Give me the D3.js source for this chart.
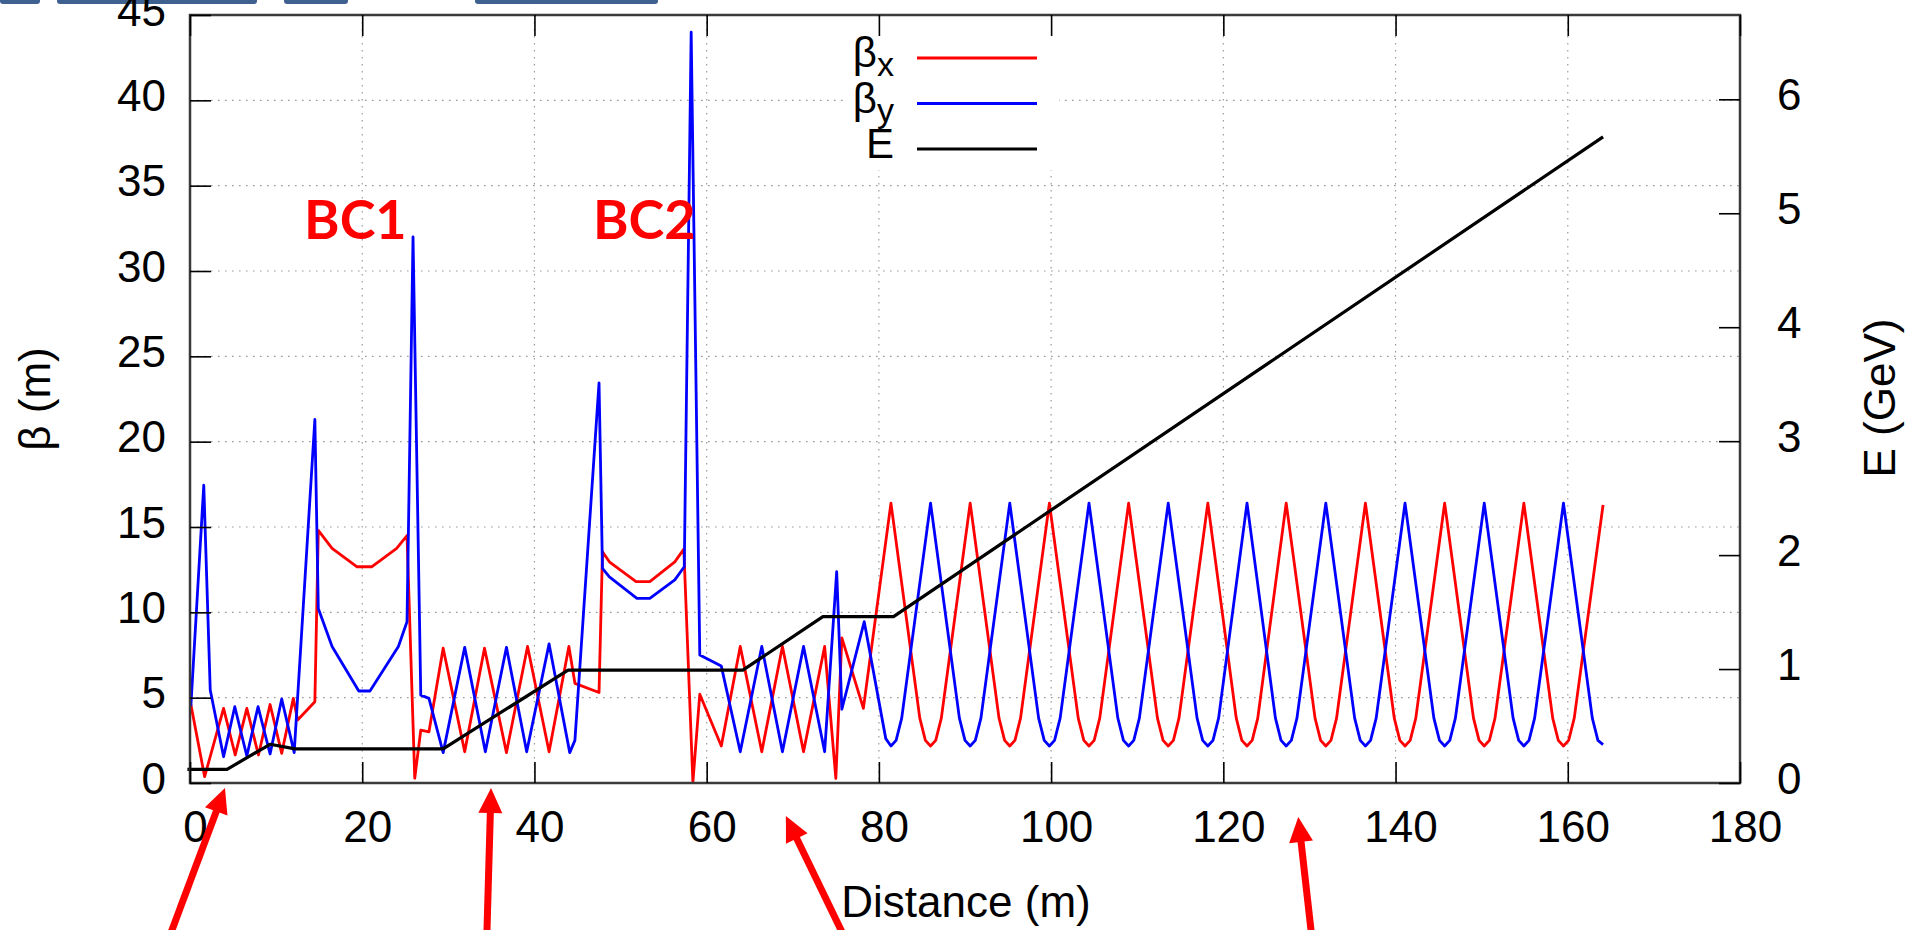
<!DOCTYPE html>
<html>
<head>
<meta charset="utf-8">
<script src="https://cdn.jsdelivr.net/npm/d3@7"></script>
<style>
    body { margin: 0; background: #fff; }
    svg { display: block; font-family: "Liberation Sans", Arial, sans-serif; }
</style>
</head>
<body>
<div id="chart"></div>
<script>

// beta functions, [distance (m), beta (m)]
var betaX = [
    [0.1, 4.6], [1.7, 0.37], [3.9, 4.37], [5.25, 1.64], [6.6, 4.37], [7.95, 1.64],
    [9.3, 4.6], [10.65, 1.74], [12.0, 4.96], [12.5, 3.69], [14.5, 4.76], [14.9, 14.8],
    [16.5, 13.75], [19.4, 12.67], [21.1, 12.67], [24.0, 13.75], [25.2, 14.5], [26.1, 0.28],
    [26.8, 3.1], [27.75, 3.0], [29.4, 7.9], [31.9, 1.83], [34.2, 7.9], [36.75, 1.78],
    [39.2, 8.0], [41.7, 1.83], [44.0, 8.0], [44.7, 5.84], [47.5, 5.3], [47.9, 13.55],
    [48.7, 12.96], [51.8, 11.8], [53.4, 11.8], [56.3, 12.96], [57.35, 13.7], [58.4, 0.05],
    [59.2, 5.2], [61.7, 2.17], [63.9, 8.0], [66.4, 1.83], [68.8, 8.0], [71.25, 1.83],
    [73.7, 8.0], [75.0, 0.27], [75.7, 8.5], [78.2, 4.37], [81.4, 16.4],
    [84.75, 3.8], [85.4, 2.5], [86.0, 2.17], [86.6, 2.5], [87.25, 3.8], [90.6, 16.4],
    [93.95, 3.8], [94.6, 2.5], [95.2, 2.17], [95.8, 2.5], [96.45, 3.8], [99.8, 16.4],
    [103.15, 3.8], [103.8, 2.5], [104.4, 2.17], [105.0, 2.5], [105.65, 3.8], [109.0, 16.4],
    [112.35, 3.8], [113.0, 2.5], [113.6, 2.17], [114.2, 2.5], [114.85, 3.8], [118.2, 16.4],
    [121.5, 3.8], [122.15, 2.5], [122.75, 2.17], [123.35, 2.5], [124.0, 3.8], [127.3, 16.4],
    [130.65, 3.8], [131.3, 2.5], [131.9, 2.17], [132.5, 2.5], [133.15, 3.8], [136.5, 16.4],
    [139.85, 3.8], [140.5, 2.5], [141.1, 2.17], [141.7, 2.5], [142.35, 3.8], [145.7, 16.4],
    [149.05, 3.8], [149.7, 2.5], [150.3, 2.17], [150.9, 2.5], [151.55, 3.8], [154.9, 16.4],
    [158.25, 3.8], [158.9, 2.5], [159.5, 2.17], [160.1, 2.5], [160.75, 3.8], [164.1, 16.3]
];

var betaY = [
    [0.1, 4.5], [1.6, 17.45], [2.35, 5.45], [3.9, 1.54], [5.2, 4.47], [6.6, 1.58],
    [7.9, 4.47], [9.3, 1.7], [10.65, 4.92], [12.1, 1.78], [14.5, 21.3], [14.9, 10.23],
    [16.5, 8.0], [19.6, 5.39], [20.9, 5.39], [24.2, 8.0], [25.2, 9.45], [25.9, 32.0],
    [26.8, 5.15], [27.75, 4.96], [29.4, 1.78], [31.9, 7.95], [34.3, 1.83], [36.75, 7.95],
    [39.1, 1.83], [41.7, 8.15], [44.1, 1.78], [44.7, 2.5], [47.5, 23.45], [47.9, 12.57],
    [48.7, 12.08], [51.9, 10.82], [53.4, 10.82], [56.3, 11.9], [57.4, 12.67], [58.2, 44.0],
    [59.2, 7.5], [61.7, 6.85], [63.9, 1.83], [66.4, 8.0], [68.8, 1.83], [71.25, 8.0],
    [73.7, 1.83], [75.1, 12.38], [75.7, 4.32], [78.3, 9.45], [80.8, 2.6], [81.4, 2.17],
    [82.0, 2.5], [82.65, 3.8], [86.0, 16.4],
    [89.35, 3.8], [90.0, 2.5], [90.6, 2.17], [91.2, 2.5], [91.85, 3.8], [95.2, 16.4],
    [98.55, 3.8], [99.2, 2.5], [99.8, 2.17], [100.4, 2.5], [101.05, 3.8], [104.4, 16.4],
    [107.75, 3.8], [108.4, 2.5], [109.0, 2.17], [109.6, 2.5], [110.25, 3.8], [113.6, 16.4],
    [116.95, 3.8], [117.6, 2.5], [118.2, 2.17], [118.8, 2.5], [119.45, 3.8], [122.75, 16.4],
    [126.05, 3.8], [126.7, 2.5], [127.3, 2.17], [127.9, 2.5], [128.55, 3.8], [131.9, 16.4],
    [135.25, 3.8], [135.9, 2.5], [136.5, 2.17], [137.1, 2.5], [137.75, 3.8], [141.1, 16.4],
    [144.45, 3.8], [145.1, 2.5], [145.7, 2.17], [146.3, 2.5], [146.95, 3.8], [150.3, 16.4],
    [153.65, 3.8], [154.3, 2.5], [154.9, 2.17], [155.5, 2.5], [156.15, 3.8], [159.5, 16.4],
    [162.85, 3.8], [163.5, 2.5], [164.1, 2.25]
];

// beam energy, [distance (m), E (GeV)]
var energy = [
    [-0.3, 0.12], [4.3, 0.12], [9.3, 0.34], [12.2, 0.30], [29.4, 0.30], [43.9, 0.99],
    [64.2, 0.99], [73.5, 1.46], [81.7, 1.46], [164.1, 5.67]
];

var xTicks = [0, 20, 40, 60, 80, 100, 120, 140, 160, 180];
var yTicks = [0, 5, 10, 15, 20, 25, 30, 35, 40, 45];
var eTicks = [0, 1, 2, 3, 4, 5, 6];

var legendNames = [["β", "x"], ["β", "y"], ["E", ""]];
var legendColors = ["#ff0000", "#0000ff", "#000000"];

// bunch compressor labels: [name, distance, beta]
var sections = [["BC1", 13.25, 31.9], ["BC2", 46.8, 31.9]];

// distances the red arrows point at
var arrowTargets = [4.06, 34.96, 69.2, 128.7];


// Internal variables
//
var width = 1911;
var height = 930;

var plot = { left: 190, right: 1740, top: 15, bottom: 783 };

var x_scale = d3.scaleLinear().domain([0, 180]).range([plot.left, plot.right]);
var y_scale = d3.scaleLinear().domain([0, 45]).range([plot.bottom, plot.top]);
var e_scale = d3.scaleLinear().domain([0, 6.74]).range([plot.bottom, plot.top]);

var svg = d3.select('#chart')
    .append('svg')
    .attr('width', width)
    .attr('height', height);

// cut-off toolbar buttons along the top edge
var buttons = [[0, 40], [57, 257], [284, 348], [475, 658]];
svg.selectAll('.button')
    .data(buttons)
    .enter()
    .append('rect')
    .attr('class', 'button')
    .attr('x', function(d) { return d[0]; })
    .attr('y', -6)
    .attr('width', function(d) { return d[1] - d[0]; })
    .attr('height', 10)
    .attr('rx', 3)
    .attr('fill', '#3f618f');

// dotted grid
var grid = svg.append('g')
    .attr('stroke', '#9a9a9a')
    .attr('stroke-width', 1.2)
    .attr('stroke-dasharray', '1.6,5.4');

grid.selectAll('.gx')
    .data(xTicks.slice(1, -1))
    .enter()
    .append('line')
    .attr('x1', function(d) { return x_scale(d); })
    .attr('x2', function(d) { return x_scale(d); })
    .attr('y1', plot.top)
    .attr('y2', plot.bottom);

grid.selectAll('.gy')
    .data(yTicks.slice(1, -1))
    .enter()
    .append('line')
    .attr('x1', plot.left)
    .attr('x2', plot.right)
    .attr('y1', function(d) { return y_scale(d); })
    .attr('y2', function(d) { return y_scale(d); });

// opaque key box hides the grid behind the legend
svg.append('rect')
    .attr('x', 845)
    .attr('y', plot.top + 2)
    .attr('width', 214)
    .attr('height', 153)
    .attr('fill', '#fff');

// curves
var line = d3.line()
    .x(function(d) { return x_scale(d[0]); })
    .y(function(d) { return y_scale(d[1]); });

var eline = d3.line()
    .x(function(d) { return x_scale(d[0]); })
    .y(function(d) { return e_scale(d[1]); });

svg.append('path')
    .datum(betaX)
    .attr('d', line)
    .attr('fill', 'none')
    .attr('stroke', legendColors[0])
    .attr('stroke-width', 2.8)
    .attr('stroke-linejoin', 'round');

svg.append('path')
    .datum(betaY)
    .attr('d', line)
    .attr('fill', 'none')
    .attr('stroke', legendColors[1])
    .attr('stroke-width', 2.8)
    .attr('stroke-linejoin', 'round');

svg.append('path')
    .datum(energy)
    .attr('d', eline)
    .attr('fill', 'none')
    .attr('stroke', legendColors[2])
    .attr('stroke-width', 3.2)
    .attr('stroke-linejoin', 'round');

// frame
svg.append('rect')
    .attr('x', plot.left)
    .attr('y', plot.top)
    .attr('width', plot.right - plot.left)
    .attr('height', plot.bottom - plot.top)
    .attr('fill', 'none')
    .attr('stroke', '#3a3a3a')
    .attr('stroke-width', 2.5);

// axes, ticks point inwards
var tickLen = 21;

var xAxis = svg.append('g')
    .attr('transform', 'translate(0,' + plot.bottom + ')')
    .call(d3.axisBottom(x_scale)
        .tickValues(xTicks)
        .tickSizeInner(-tickLen)
        .tickSizeOuter(0)
        .tickPadding(59));

svg.append('g')
    .attr('transform', 'translate(0,' + plot.top + ')')
    .call(d3.axisTop(x_scale)
        .tickValues(xTicks)
        .tickSizeInner(-tickLen)
        .tickSizeOuter(0)
        .tickFormat(''));

var yAxis = svg.append('g')
    .attr('transform', 'translate(' + plot.left + ',0)')
    .call(d3.axisLeft(y_scale)
        .tickValues(yTicks)
        .tickSizeInner(-tickLen)
        .tickSizeOuter(0)
        .tickPadding(24));

var eAxis = svg.append('g')
    .attr('transform', 'translate(' + plot.right + ',0)')
    .call(d3.axisRight(e_scale)
        .tickValues(eTicks)
        .tickFormat(d3.format('d'))
        .tickSizeInner(-tickLen)
        .tickSizeOuter(0)
        .tickPadding(37));

svg.selectAll('.domain').remove();

svg.selectAll('.tick line')
    .attr('stroke', '#000')
    .attr('stroke-width', 1.6);

svg.selectAll('.tick text')
    .attr('font-family', '"Liberation Sans", Arial, sans-serif')
    .attr('font-size', 44)
    .attr('fill', '#000');

xAxis.selectAll('.tick text')
    .attr('x', 5)
    .attr('dy', 0);

yAxis.selectAll('.tick text').attr('dy', '0.23em');
eAxis.selectAll('.tick text').attr('dy', '0.23em');

// axis labels
svg.append('text')
    .attr('x', (plot.left + plot.right) / 2 + 1)
    .attr('y', 917)
    .attr('text-anchor', 'middle')
    .attr('font-size', 44)
    .text('Distance (m)');

svg.append('text')
    .attr('transform', 'translate(50,399)rotate(-90)')
    .attr('text-anchor', 'middle')
    .attr('font-size', 44)
    .text('β (m)');

svg.append('text')
    .attr('transform', 'translate(1895,398)rotate(-90)')
    .attr('text-anchor', 'middle')
    .attr('font-size', 44)
    .text('E (GeV)');

// legend
var key = svg.selectAll('.key')
    .data(legendNames)
    .enter()
    .append('g')
    .attr('class', 'key')
    .attr('transform', function(d, i) { return 'translate(0,' + (67 + i * 45.5) + ')'; });

var keyText = key.append('text')
    .attr('x', 894)
    .attr('text-anchor', 'end')
    .attr('font-size', 42);

keyText.append('tspan')
    .text(function(d) { return d[0]; });

keyText.append('tspan')
    .attr('font-size', 34)
    .attr('dy', 9)
    .text(function(d) { return d[1]; });

key.append('line')
    .attr('x1', 917)
    .attr('x2', 1037)
    .attr('y1', -9)
    .attr('y2', -9)
    .attr('stroke', function(d, i) { return legendColors[i]; })
    .attr('stroke-width', 2.8);

// BC1 / BC2
svg.selectAll('.section')
    .data(sections)
    .enter()
    .append('text')
    .attr('class', 'section')
    .attr('x', function(d) { return x_scale(d[1]); })
    .attr('y', function(d) { return y_scale(d[2]); })
    .attr('font-family', 'Lato, "Open Sans", sans-serif')
    .attr('font-weight', 'bold')
    .attr('font-size', 54)
    .attr('fill', '#ff0000')
    .text(function(d) { return d[0]; });

// red arrows under the axis: tip drop below the frame, tail x at the bottom edge
var arrowLayout = [[5, 172], [5, 487], [33, 841], [34, 1311]];

arrowTargets.forEach(function(s, i) {
    var tipX = x_scale(s);
    var tipY = plot.bottom + arrowLayout[i][0];
    var tailX = arrowLayout[i][1];
    var tailY = height;
    var dx = tipX - tailX;
    var dy = tipY - tailY;
    var len = Math.sqrt(dx * dx + dy * dy);
    var ux = dx / len;
    var uy = dy / len;
    var head = 25;
    var half = 12;
    var bx = tipX - ux * head;
    var by = tipY - uy * head;

    svg.append('line')
        .attr('x1', tailX - ux * 30)
        .attr('y1', tailY - uy * 30)
        .attr('x2', bx + ux * 4)
        .attr('y2', by + uy * 4)
        .attr('stroke', '#ff0000')
        .attr('stroke-width', 7);

    svg.append('polygon')
        .attr('points', [
            [tipX, tipY],
            [bx - uy * half, by + ux * half],
            [bx + uy * half, by - ux * half]
        ].join(' '))
        .attr('fill', '#ff0000');
});

</script>
</body>
</html>
